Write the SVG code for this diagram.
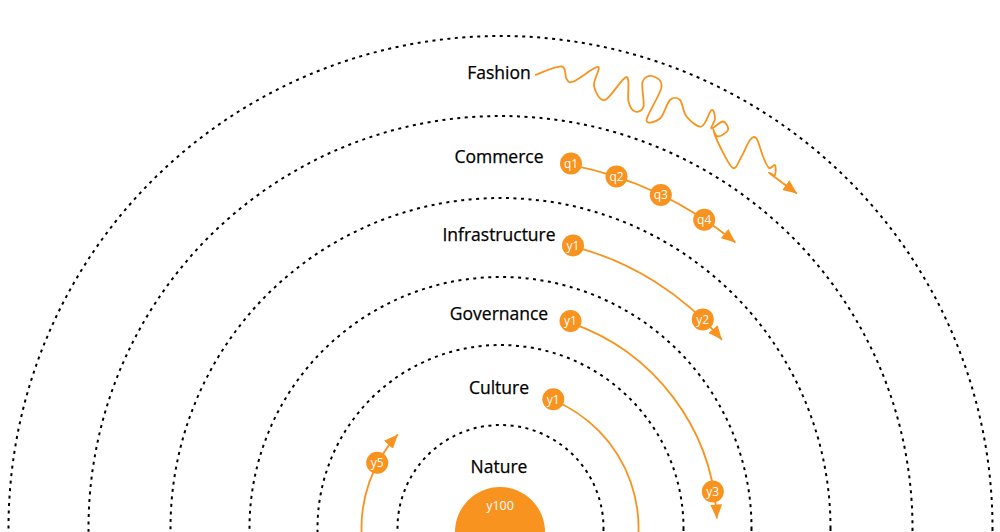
<svg xmlns="http://www.w3.org/2000/svg" width="1000" height="532" viewBox="0 0 1000 532">
<style>
.ring{fill:none;stroke:#000;stroke-width:2;stroke-dasharray:3 4.5}
.lbl{font-family:"Open Sans","Liberation Sans",sans-serif;font-size:17.5px;fill:#000;text-anchor:middle;stroke:#000;stroke-width:0.25}
.flow{fill:none;stroke:#F7931E;stroke-width:1.8;marker-end:url(#arr)}
.dot{fill:#F7931E}
.dt{font-family:"Open Sans","Liberation Sans",sans-serif;font-size:12px;fill:#fff;text-anchor:middle}
</style>
<defs>
<marker id="arr" markerUnits="userSpaceOnUse" markerWidth="15" markerHeight="12" refX="14" refY="6" orient="auto">
<path d="M0,0 L14,6 L0,12 Z" fill="#F7931E"/>
</marker>
</defs>
<g id="rings">
<circle class="ring" cx="500.5" cy="528" r="492"/>
<circle class="ring" cx="500.5" cy="528" r="412"/>
<circle class="ring" cx="500.5" cy="528" r="330"/>
<circle class="ring" cx="500.5" cy="528" r="251"/>
<circle class="ring" cx="500.5" cy="528" r="183"/>
<circle class="ring" cx="500.5" cy="528" r="103"/>
</g>
<g id="labels">
<text class="lbl" x="499" y="78.5">Fashion</text>
<text class="lbl" x="499" y="163">Commerce</text>
<text class="lbl" x="499" y="240.5">Infrastructure</text>
<text class="lbl" x="499" y="320">Governance</text>
<text class="lbl" x="499" y="394">Culture</text>
<text class="lbl" x="499" y="472.5">Nature</text>
</g>
<g id="connectors">
<path class="flow" d="M535,75 C539.45,73.58 556.45,65.83 561.7,66.5 S564.53,76.5 566.5,79 S568.25,83.5 573.5,81.5 S594.58,66.25 598,67 S592.83,80.5 594,86 S599.58,101.5 605,100 S622.58,76.75 626.5,77 S627.08,95.75 628.5,101.5 S632.5,110.67 635,111.5 S642.25,111.42 643.5,106.5 S641.08,87.08 642.5,82 S648.83,75.17 652,76 S662.42,79.67 661.5,87 S646.75,114.75 646.5,120 S656.08,121.83 660,118.5 S666.67,103.08 670,100 S677.25,97.25 680,100 S682.92,112.08 686.5,116.5 S697.33,127.58 701.5,126.5 S709.25,111.33 711.5,110 S715,115.42 715,118.5 S710.17,128 711.5,128.5 S720.25,121.25 723,121.5 S728.83,127.5 728,130 S720.42,136.5 718,136.5 S713.17,128.33 713.5,130 S716.75,140.17 720,146.5 S729.42,166.33 733,168 S738.67,161.17 741.5,156.5 S747.5,143 750,140 S754.33,135.75 756.5,138.5 S760.92,151.58 763,156.5 S767,166.58 769,168 S774,163.83 775,165 S775.83,173.58 775,175 S766.33,170.42 770,173.5 S792.5,190.17 797,193.5"/>
<path class="flow" d="M570.6,164.8 A370,370 0 0 1 735.4,242.5"/>
<path class="flow" d="M572.9,246.3 A291,291 0 0 1 722,339.8"/>
<path class="flow" d="M569.9,322.6 A217,217 0 0 1 716.8,518.5"/>
<path class="flow" d="M553,400 A138.5,138.5 0 1 1 397.9,434.4"/>
</g>
<g id="nodes">
<g id="q1"><circle class="dot" cx="571" cy="163.5" r="11"/><text class="dt" x="571" y="167.7">q1</text></g>
<g id="q2"><circle class="dot" cx="616.5" cy="176.5" r="11"/><text class="dt" x="616.5" y="180.7">q2</text></g>
<g id="q3"><circle class="dot" cx="660.8" cy="195" r="11"/><text class="dt" x="660.8" y="199.2">q3</text></g>
<g id="q4"><circle class="dot" cx="704.2" cy="219.8" r="11"/><text class="dt" x="704.2" y="224">q4</text></g>
<g id="infra-y1"><circle class="dot" cx="573" cy="245.5" r="11"/><text class="dt" x="573" y="249.7">y1</text></g>
<g id="infra-y2"><circle class="dot" cx="702.8" cy="319.4" r="11"/><text class="dt" x="702.8" y="323.6">y2</text></g>
<g id="gov-y1"><circle class="dot" cx="570.5" cy="321" r="11"/><text class="dt" x="570.5" y="325.2">y1</text></g>
<g id="gov-y3"><circle class="dot" cx="712.8" cy="491.5" r="11"/><text class="dt" x="712.8" y="495.7">y3</text></g>
<g id="cul-y1"><circle class="dot" cx="553.3" cy="399.3" r="11"/><text class="dt" x="553.3" y="403.5">y1</text></g>
<g id="cul-y5"><circle class="dot" cx="377.2" cy="462.8" r="11"/><text class="dt" x="377.2" y="467">y5</text></g>
<g id="nature-y100"><circle class="dot" cx="500" cy="532" r="45"/><text class="dt" x="500" y="510" style="font-size:12.5px">y100</text></g>
</g>
</svg>
